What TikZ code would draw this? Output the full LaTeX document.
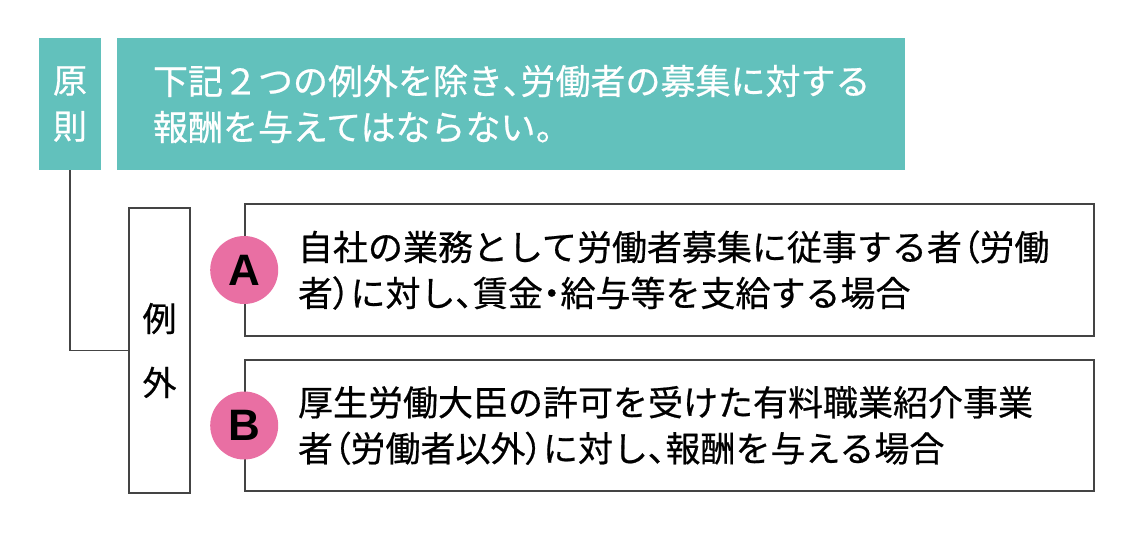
\documentclass[tikz,border=0pt]{standalone}
\usepackage{fontspec}
\setmainfont[FakeBold=0.6]{Noto Sans CJK JP}
\newfontfamily\paltfont[RawFeature=+palt,FakeBold=0.6]{Noto Sans CJK JP}
\newfontfamily\latinfont{Liberation Sans}
\newcommand\pn[1]{{\paltfont #1}}
\definecolor{teal1}{HTML}{62C1BC}
\definecolor{pink1}{HTML}{E96FA3}
\definecolor{line1}{HTML}{444444}
\begin{document}
\begin{tikzpicture}[x=1pt,y=-1pt,
    tealbox/.style={fill=teal1,text=white,inner sep=0pt,font=\fontsize{35}{46}\selectfont},
    framebox/.style={draw=line1,line width=1.6pt,fill=white,inner sep=0pt,font=\fontsize{35}{46}\selectfont},
    casemark/.style={circle,fill=pink1,minimum size=68pt,inner sep=0pt,font=\latinfont\bfseries\fontsize{44}{44}\selectfont}]
    \useasboundingbox (0,0) rectangle (1140,536);
    \node[tealbox,minimum width=62pt,minimum height=132pt,align=center,font=\fontsize{34}{46}\selectfont] (gensoku) at (70,104) {原\\則};
    \node[tealbox,minimum height=132pt,text width=716pt,inner xsep=36pt,align=left] (honbun) at (511,104)
        {下記２つの例外を除き\pn{、}労働者の募集に対する\\報酬を与えてはならない\pn{。}};
    \node[framebox,minimum width=61pt,minimum height=285pt,align=center,font=\fontsize{34}{64}\selectfont] (reigai) at (159.5,350.5) {例\\外};
    \draw[line1,line width=1.6pt] (gensoku.south) |- (reigai.west);
    \node[framebox,minimum height=132pt,text width=743pt,inner xsep=53pt,align=left] (caseA) at (669.5,270)
        {自社の業務として労働者募集に従事する者\pn{（}労働\\者\pn{）}に対し\pn{、}賃金\pn{・}給与等を支給する場合};
    \node[framebox,minimum height=131pt,text width=743pt,inner xsep=53pt,align=left] (caseB) at (669.5,425.5)
        {厚生労働大臣の許可を受けた有料職業紹介事業\\者\pn{（}労働者以外\pn{）}に対し\pn{、}報酬を与える場合};
    \node[casemark] (markA) at (caseA.west) {A};
    \node[casemark] (markB) at (caseB.west) {B};
\end{tikzpicture}
\end{document}
